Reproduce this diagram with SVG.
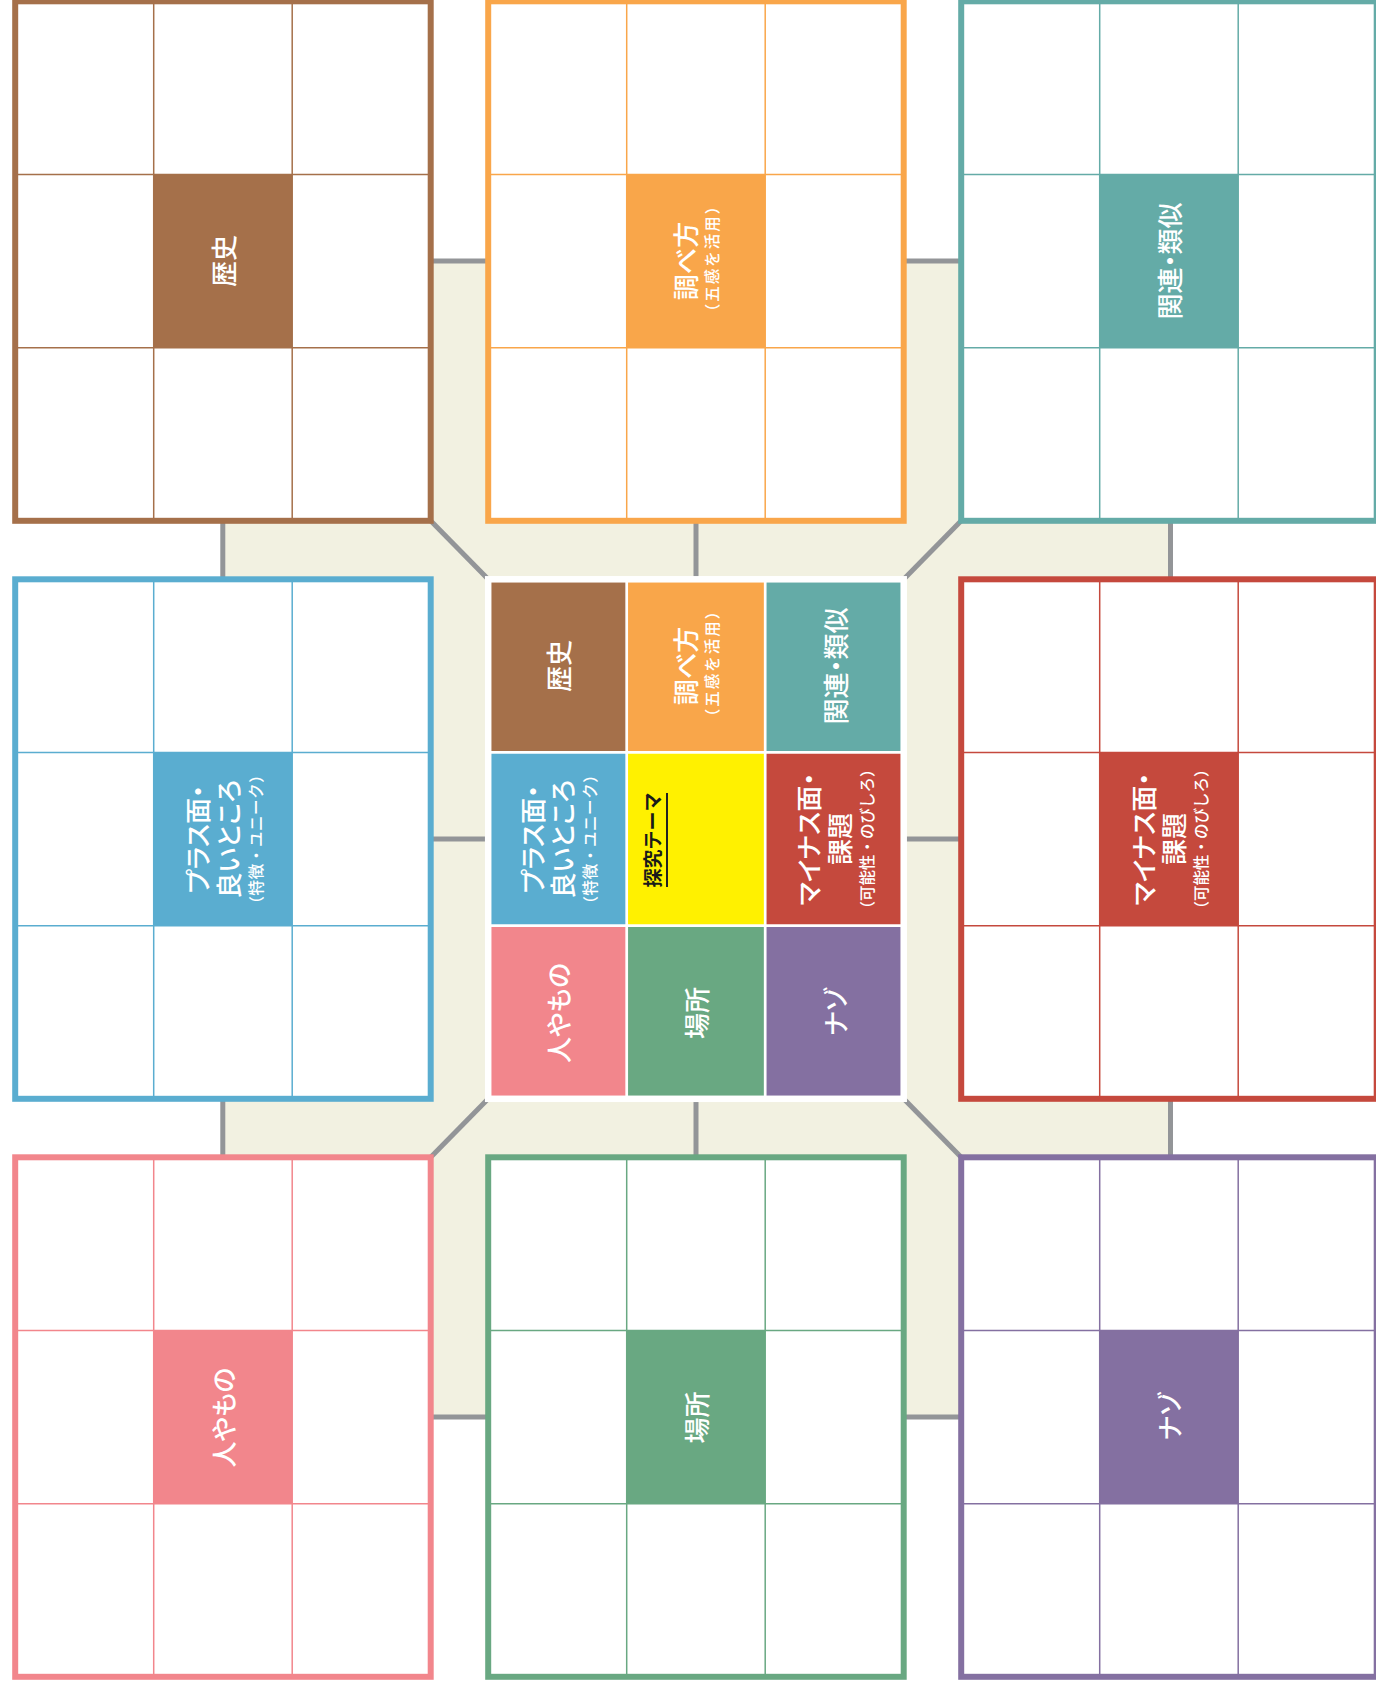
<svg xmlns="http://www.w3.org/2000/svg" width="1376" height="1685" viewBox="0 0 1376 1685">
<defs>
<style>
.lbl{font-family:"Noto Sans CJK JP","Noto Sans CJK SC",sans-serif;fill:#ffffff;font-size:26px;font-weight:500;text-anchor:middle;dominant-baseline:central;font-feature-settings:"palt" 1;}
.sm{font-size:15.5px;font-feature-settings:normal;}
.ls1{letter-spacing:0.6px;}
.ls2{letter-spacing:2px;}
.theme{font-family:"Noto Sans CJK JP","Noto Sans CJK SC",sans-serif;fill:#1a1a1a;font-size:19px;font-weight:700;text-anchor:middle;dominant-baseline:central;}
.conn{stroke:#939598;stroke-width:5;fill:none;}
.cellbg{fill:#ffffff;}
.grid{stroke-width:1.5;fill:none;}
.border{fill:none;stroke-width:6;}
</style>
</defs>
<rect x="0" y="0" width="1376" height="1685" fill="#ffffff"/>

<g id="connectors">
<rect x="222.8" y="261" width="947.7" height="1156" fill="#F2F1E1" stroke="#939598" stroke-width="5"/>
<line class="conn" x1="222.8" y1="839" x2="1170.5" y2="839"/>
<line class="conn" x1="696" y1="261" x2="696" y2="1417"/>
<line class="conn" x1="430.7" y1="520.8" x2="488.2" y2="579.3"/>
<line class="conn" x1="961.2" y1="520.8" x2="903.7" y2="579.3"/>
<line class="conn" x1="430.7" y1="1157.3" x2="488.2" y2="1098.8"/>
<line class="conn" x1="961.2" y1="1157.3" x2="903.7" y2="1098.8"/>
</g>

<g id="box-history">
<rect class="cellbg" x="15.2" y="1.3" width="415.5" height="519.5"/>
<rect x="153.7" y="174.47" width="138.5" height="173.17" fill="#A5704A"/>
<g class="grid" stroke="#A5704A">
<line x1="153.7" y1="1.3" x2="153.7" y2="520.8"/><line x1="292.2" y1="1.3" x2="292.2" y2="520.8"/>
<line x1="15.2" y1="174.47" x2="430.7" y2="174.47"/><line x1="15.2" y1="347.63" x2="430.7" y2="347.63"/>
</g>
<rect class="border" stroke="#A5704A" x="15.2" y="1.3" width="415.5" height="519.5"/>
<text class="lbl" transform="translate(222.95 261.05) rotate(-90)" x="0" y="0">歴史</text>
</g>

<g id="box-method">
<rect class="cellbg" x="488.2" y="1.3" width="415.5" height="519.5"/>
<rect x="626.7" y="174.47" width="138.5" height="173.17" fill="#F9A64A"/>
<g class="grid" stroke="#F9A64A">
<line x1="626.7" y1="1.3" x2="626.7" y2="520.8"/><line x1="765.2" y1="1.3" x2="765.2" y2="520.8"/>
<line x1="488.2" y1="174.47" x2="903.7" y2="174.47"/><line x1="488.2" y1="347.63" x2="903.7" y2="347.63"/>
</g>
<rect class="border" stroke="#F9A64A" x="488.2" y="1.3" width="415.5" height="519.5"/>
<text class="lbl" transform="translate(695.95 261.05) rotate(-90)"><tspan x="0" y="-12">調べ方</tspan><tspan class="sm ls2" x="3" y="15">（五感を活用）</tspan></text>
</g>

<g id="box-related">
<rect class="cellbg" x="961.2" y="1.3" width="415.5" height="519.5"/>
<rect x="1099.7" y="174.47" width="138.5" height="173.17" fill="#64ABA7"/>
<g class="grid" stroke="#64ABA7">
<line x1="1099.7" y1="1.3" x2="1099.7" y2="520.8"/><line x1="1238.2" y1="1.3" x2="1238.2" y2="520.8"/>
<line x1="961.2" y1="174.47" x2="1376.7" y2="174.47"/><line x1="961.2" y1="347.63" x2="1376.7" y2="347.63"/>
</g>
<rect class="border" stroke="#64ABA7" x="961.2" y="1.3" width="415.5" height="519.5"/>
<text class="lbl" transform="translate(1168.95 261.05) rotate(-90)" x="0" y="0">関連・類似</text>
</g>

<g id="box-plus">
<rect class="cellbg" x="15.2" y="579.3" width="415.5" height="519.5"/>
<rect x="153.7" y="752.47" width="138.5" height="173.17" fill="#5AADD0"/>
<g class="grid" stroke="#5AADD0">
<line x1="153.7" y1="579.3" x2="153.7" y2="1098.8"/><line x1="292.2" y1="579.3" x2="292.2" y2="1098.8"/>
<line x1="15.2" y1="752.47" x2="430.7" y2="752.47"/><line x1="15.2" y1="925.63" x2="430.7" y2="925.63"/>
</g>
<rect class="border" stroke="#5AADD0" x="15.2" y="579.3" width="415.5" height="519.5"/>
<text class="lbl" transform="translate(222.95 839.05) rotate(-90)"><tspan x="0" y="-26.5">プラス面・</tspan><tspan x="0" y="4">良いところ</tspan><tspan class="sm ls1" x="0" y="32">（特徴・ユニーク）</tspan></text>
</g>

<g id="box-center">
<rect x="488.2" y="579.3" width="138.5" height="173.17" fill="#A5704A"/>
<rect x="626.7" y="579.3" width="138.5" height="173.17" fill="#F9A64A"/>
<rect x="765.2" y="579.3" width="138.5" height="173.17" fill="#64ABA7"/>
<rect x="488.2" y="752.47" width="138.5" height="173.17" fill="#5AADD0"/>
<rect x="626.7" y="752.47" width="138.5" height="173.17" fill="#FFF100"/>
<rect x="765.2" y="752.47" width="138.5" height="173.17" fill="#C5493D"/>
<rect x="488.2" y="925.63" width="138.5" height="173.17" fill="#F2868C"/>
<rect x="626.7" y="925.63" width="138.5" height="173.17" fill="#69A882"/>
<rect x="765.2" y="925.63" width="138.5" height="173.17" fill="#8470A1"/>
<g stroke="#ffffff" stroke-width="2.7">
<line x1="626.7" y1="579.3" x2="626.7" y2="1098.8"/><line x1="765.2" y1="579.3" x2="765.2" y2="1098.8"/>
<line x1="488.2" y1="752.47" x2="903.7" y2="752.47"/><line x1="488.2" y1="925.63" x2="903.7" y2="925.63"/>
</g>
<rect fill="none" stroke="#ffffff" stroke-width="6.5" x="488.2" y="579.3" width="415.5" height="519.5"/>
<text class="lbl" transform="translate(557.45 665.88) rotate(-90)" x="0" y="0">歴史</text>
<text class="lbl" transform="translate(695.95 665.88) rotate(-90)"><tspan x="0" y="-12">調べ方</tspan><tspan class="sm ls2" x="3" y="15">（五感を活用）</tspan></text>
<text class="lbl" transform="translate(834.45 665.88) rotate(-90)" x="0" y="0">関連・類似</text>
<text class="lbl" transform="translate(557.45 839.05) rotate(-90)"><tspan x="0" y="-26.5">プラス面・</tspan><tspan x="0" y="4">良いところ</tspan><tspan class="sm ls1" x="0" y="32">（特徴・ユニーク）</tspan></text>
<text class="theme" transform="translate(651.7 840) rotate(-90)" x="0" y="0">探究テーマ</text>
<line x1="667" y1="793" x2="667" y2="887" stroke="#222222" stroke-width="2"/>
<text class="lbl" transform="translate(834.45 839.05) rotate(-90)"><tspan x="0" y="-27">マイナス面・</tspan><tspan x="0" y="3.5">課題</tspan><tspan class="sm" x="0" y="31.5">（可能性・のびしろ）</tspan></text>
<text class="lbl" transform="translate(557.45 1012.9) rotate(-90)" x="0" y="0">人やもの</text>
<text class="lbl" transform="translate(695.95 1012.9) rotate(-90)" x="0" y="0">場所</text>
<text class="lbl" transform="translate(834.45 1011.5) rotate(-90)" x="0" y="0">ナゾ</text>
</g>

<g id="box-minus">
<rect class="cellbg" x="961.2" y="579.3" width="415.5" height="519.5"/>
<rect x="1099.7" y="752.47" width="138.5" height="173.17" fill="#C5493D"/>
<g class="grid" stroke="#C5493D">
<line x1="1099.7" y1="579.3" x2="1099.7" y2="1098.8"/><line x1="1238.2" y1="579.3" x2="1238.2" y2="1098.8"/>
<line x1="961.2" y1="752.47" x2="1376.7" y2="752.47"/><line x1="961.2" y1="925.63" x2="1376.7" y2="925.63"/>
</g>
<rect class="border" stroke="#C5493D" x="961.2" y="579.3" width="415.5" height="519.5"/>
<text class="lbl" transform="translate(1168.95 839.05) rotate(-90)"><tspan x="0" y="-27">マイナス面・</tspan><tspan x="0" y="3.5">課題</tspan><tspan class="sm" x="0" y="31.5">（可能性・のびしろ）</tspan></text>
</g>

<g id="box-people">
<rect class="cellbg" x="15.2" y="1157.3" width="415.5" height="519.5"/>
<rect x="153.7" y="1330.47" width="138.5" height="173.17" fill="#F2868C"/>
<g class="grid" stroke="#F2868C">
<line x1="153.7" y1="1157.3" x2="153.7" y2="1676.8"/><line x1="292.2" y1="1157.3" x2="292.2" y2="1676.8"/>
<line x1="15.2" y1="1330.47" x2="430.7" y2="1330.47"/><line x1="15.2" y1="1503.63" x2="430.7" y2="1503.63"/>
</g>
<rect class="border" stroke="#F2868C" x="15.2" y="1157.3" width="415.5" height="519.5"/>
<text class="lbl" transform="translate(222.95 1417.5) rotate(-90)" x="0" y="0">人やもの</text>
</g>

<g id="box-place">
<rect class="cellbg" x="488.2" y="1157.3" width="415.5" height="519.5"/>
<rect x="626.7" y="1330.47" width="138.5" height="173.17" fill="#69A882"/>
<g class="grid" stroke="#69A882">
<line x1="626.7" y1="1157.3" x2="626.7" y2="1676.8"/><line x1="765.2" y1="1157.3" x2="765.2" y2="1676.8"/>
<line x1="488.2" y1="1330.47" x2="903.7" y2="1330.47"/><line x1="488.2" y1="1503.63" x2="903.7" y2="1503.63"/>
</g>
<rect class="border" stroke="#69A882" x="488.2" y="1157.3" width="415.5" height="519.5"/>
<text class="lbl" transform="translate(695.95 1417.5) rotate(-90)" x="0" y="0">場所</text>
</g>

<g id="box-mystery">
<rect class="cellbg" x="961.2" y="1157.3" width="415.5" height="519.5"/>
<rect x="1099.7" y="1330.47" width="138.5" height="173.17" fill="#8470A1"/>
<g class="grid" stroke="#8470A1">
<line x1="1099.7" y1="1157.3" x2="1099.7" y2="1676.8"/><line x1="1238.2" y1="1157.3" x2="1238.2" y2="1676.8"/>
<line x1="961.2" y1="1330.47" x2="1376.7" y2="1330.47"/><line x1="961.2" y1="1503.63" x2="1376.7" y2="1503.63"/>
</g>
<rect class="border" stroke="#8470A1" x="961.2" y="1157.3" width="415.5" height="519.5"/>
<text class="lbl" transform="translate(1168.95 1416) rotate(-90)" x="0" y="0">ナゾ</text>
</g>
</svg>
